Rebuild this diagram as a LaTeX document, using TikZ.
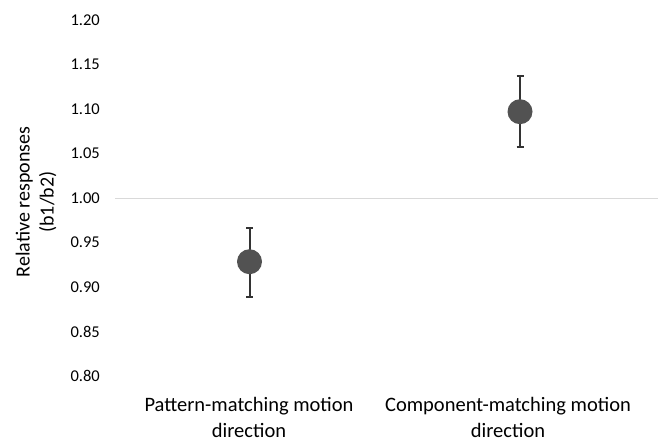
\documentclass[tikz,border=0pt]{standalone}
\usepackage{fontspec}
\setmainfont{Carlito}
\begin{document}
\begin{tikzpicture}[x=1pt,y=-1pt,
  lbl/.style={font=\fontsize{16.5}{20}\selectfont, inner sep=0pt, align=center},
  big/.style={font=\fontsize{20.5}{26}\selectfont, inner sep=0pt, align=center},
  tick/.style={lbl, anchor=east},
  ebar/.style={draw=black!80, line width=2pt},
  pt/.style={circle, fill=black!68, minimum size=25pt, inner sep=0pt}]
\useasboundingbox (0,0) rectangle (660,441);
\fill[white] (0,0) rectangle (660,441);
% ticks
\foreach \v/\y in {1.20/20,1.15/64.5,1.10/109,1.05/153.5,1.00/198,0.95/242.5,0.90/287,0.85/331.5,0.80/376}
  \node[tick] (t\v) at (100,\y) {\v};
% grid line at 1.00
\coordinate (gl) at (115,198);
\coordinate (gr) at (658,198);
\draw[black!15, line width=0.8pt] (gl) -- (gr);
% axis title
\node[big, font=\fontsize{20}{24}\selectfont, rotate=90] (ytitle) at (36,202) {Relative responses\\(b1/b2)};
% point 1
\coordinate (a1) at (249.5,227.5);
\coordinate (a2) at (249.5,297);
\draw[ebar] (a1) -- (a2);
\draw[ebar] ([xshift=-3.5pt]a1) -- ([xshift=3.5pt]a1);
\draw[ebar] ([xshift=-3.5pt]a2) -- ([xshift=3.5pt]a2);
\node[pt] (p1) at (249.5,261.7) {};
% point 2
\coordinate (b1) at (520,76);
\coordinate (b2) at (520,146.5);
\draw[ebar] (b1) -- (b2);
\draw[ebar] ([xshift=-3.5pt]b1) -- ([xshift=3.5pt]b1);
\draw[ebar] ([xshift=-3.5pt]b2) -- ([xshift=3.5pt]b2);
\node[pt] (p2) at (520,111.7) {};
% category labels
\node[big, anchor=base] (c1) at (249,437) {Pattern-matching motion\\direction};
\node[big, anchor=base] (c2) at (508,437) {Component-matching motion\\direction};
\end{tikzpicture}
\end{document}
